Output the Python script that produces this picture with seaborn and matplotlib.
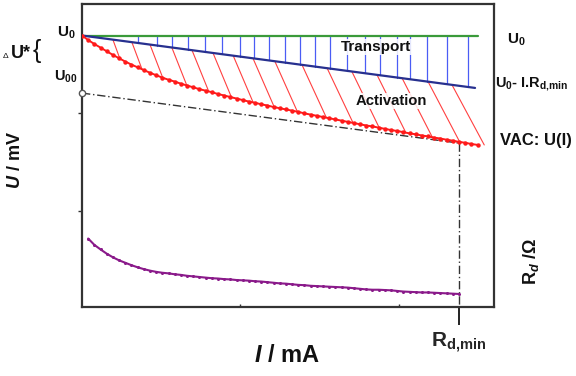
import numpy as np
import pandas as pd
import matplotlib
matplotlib.use("Agg")
import matplotlib.pyplot as plt
import seaborn as sns

# ---------------- data (schematic units: I 0..100, U 0..100) ----------------
U0 = 89.6
I_green = [0.0, 96.1]
U_green = [U0, U0]

I_blue = [0.0, 95.4]                    # U0 - I*Rd,min
U_blue = [U0, 72.3]

I_vac = [0.0, 1.5, 3.0, 4.5, 6.0, 7.5, 9.0, 10.5, 12.0, 13.5, 15.0, 16.5, 18.0,
         19.5, 21.0, 22.5, 24.0, 25.5, 27.0, 28.5, 30.0, 31.5, 33.0, 34.5, 36.0,
         37.5, 39.0, 40.5, 42.0, 43.5, 45.0, 46.5, 48.0, 49.5, 51.0, 52.5, 54.0,
         55.5, 57.0, 58.5, 60.0, 61.5, 63.0, 64.5, 66.0, 67.5, 69.0, 70.5, 72.0,
         73.5, 75.0, 76.5, 78.0, 79.5, 81.0, 82.5, 84.0, 85.5, 87.0, 88.5, 90.0,
         91.5, 93.0, 94.5, 96.0]
U_vac = [89.6, 88.1, 86.8, 85.6, 84.4, 83.2, 82.1, 81.0, 80.0, 79.1, 78.2, 77.3,
         76.5, 75.7, 75.0, 74.4, 73.7, 73.1, 72.5, 71.9, 71.4, 70.9, 70.3, 69.8,
         69.3, 68.8, 68.3, 67.8, 67.4, 66.9, 66.5, 66.0, 65.6, 65.2, 64.8, 64.4,
         63.9, 63.5, 63.1, 62.7, 62.3, 61.9, 61.5, 61.1, 60.7, 60.3, 59.9, 59.6,
         59.2, 58.8, 58.4, 58.1, 57.7, 57.3, 57.0, 56.6, 56.3, 55.9, 55.6, 55.2,
         54.9, 54.5, 54.2, 53.8, 53.5]

I_rd = [1.5, 3.0, 4.5, 6.0, 7.5, 9.0, 10.5, 12.0, 13.5, 15.0, 16.5, 18.0, 19.5,
        21.0, 22.5, 24.0, 25.5, 27.0, 28.5, 30.0, 31.5, 33.0, 34.5, 36.0, 37.5,
        39.0, 40.5, 42.0, 43.5, 45.0, 46.5, 48.0, 49.5, 51.0, 52.5, 54.0, 55.5,
        57.0, 58.5, 60.0, 61.5, 63.0, 64.5, 66.0, 67.5, 69.0, 70.5, 72.0, 73.5,
        75.0, 76.5, 78.0, 79.5, 81.0, 82.5, 84.0, 85.5, 87.0, 88.5, 90.0, 91.5]
R_d = [22.6, 20.5, 19.0, 17.6, 16.4, 15.4, 14.6, 13.8, 13.1, 12.5, 12.0, 11.6,
       11.3, 11.1, 10.8, 10.6, 10.3, 10.1, 9.9, 9.7, 9.5, 9.4, 9.2, 9.1, 8.9,
       8.8, 8.7, 8.5, 8.4, 8.2, 8.0, 7.8, 7.7, 7.5, 7.3, 7.2, 7.0, 6.9, 6.8,
       6.7, 6.6, 6.5, 6.4, 6.2, 6.0, 5.8, 5.7, 5.7, 5.6, 5.5, 5.3, 5.1, 5.0,
       4.9, 4.8, 4.8, 4.7, 4.6, 4.5, 4.4, 4.3]

I_u00 = [0.0, 91.5]          # dash-dot line from U00 to the VAC point at Rd,min
U_u00 = [70.6, 54.1]
I_rdmin = 91.5

# hatch positions
blue_hatch_I = [13.6, 18.2, 21.8, 25.7, 29.9, 34.0, 38.3, 41.7, 45.4, 49.3, 52.9,
                56.6, 60.2, 64.3, 68.7, 72.3, 76.5, 79.6, 83.7, 88.6, 93.7]
red_hatch_I = [7.5, 12.1, 16.5, 21.8, 26.7, 31.8, 36.7, 41.5, 46.8, 53.4, 59.5,
               65.5, 71.6, 77.7, 84.0, 89.8]

# ---------------- figure ----------------
sns.set_theme(style="white")
plt.rcParams["font.family"] = ["Liberation Sans", "DejaVu Sans"]
plt.rcParams["mathtext.fontset"] = "custom"
plt.rcParams["mathtext.rm"] = "Liberation Sans:bold"
plt.rcParams["mathtext.bf"] = "Liberation Sans:bold"
plt.rcParams["mathtext.it"] = "Liberation Sans:italic:bold"
plt.rcParams["mathtext.sf"] = "Liberation Sans:bold"

W, H = 576, 376
fig = plt.figure(figsize=(W / 100, H / 100), dpi=100)
ax = fig.add_axes([82 / W, 1 - 307 / H, (494 - 82) / W, (307 - 4) / H])
ax.set_xlim(0, 100)
ax.set_ylim(0, 100)

# px per data unit
PX_X = (494 - 82) / 100.0
PX_Y = (307 - 4) / 100.0

green = "#3a9a3a"
navy = "#27308f"
red = "#ff1a1a"
purple = "#8a1a8a"

# blue vertical hatches (transport)
for xi in blue_hatch_I:
    yb = np.interp(xi, I_blue, U_blue)
    ax.plot([xi, xi], [U0, yb], color="#4a5cf5", lw=0.9, zorder=1)

# red slanted hatches (activation)
for xi in red_hatch_I:
    y0 = np.interp(xi, I_blue, U_blue)
    r = 0.35 + 0.2 * xi / 96.0
    t = np.linspace(0, 90, 901)
    xs = xi + r * t / PX_X
    ys = y0 - t / PX_Y
    yr = np.interp(xs, I_vac, U_vac)
    idx = np.argmax(ys <= yr)
    ax.plot([xi, xs[idx]], [y0, ys[idx]], color="#ff4040", lw=0.8, zorder=1)

df_g = pd.DataFrame({"I": I_green, "U": U_green})
df_b = pd.DataFrame({"I": I_blue, "U": U_blue})
df_v = pd.DataFrame({"I": I_vac, "U": U_vac})
df_r = pd.DataFrame({"I": I_rd, "R": R_d})
df_d = pd.DataFrame({"I": I_u00, "U": U_u00})

sns.lineplot(data=df_g, x="I", y="U", ax=ax, color=green, lw=1.6, zorder=3)
sns.lineplot(data=df_b, x="I", y="U", ax=ax, color=navy, lw=1.6, zorder=3)
sns.lineplot(data=df_d, x="I", y="U", ax=ax, color="#333333", lw=1.0,
             dashes=False, zorder=2)
ax.lines[-1].set_dashes([6, 2, 1, 2])
ax.plot([I_rdmin, I_rdmin], [U_u00[-1], 0], color="#333333", lw=1.0,
        dashes=[6, 2, 1, 2], zorder=2)
sns.lineplot(data=df_v, x="I", y="U", ax=ax, color=red, lw=1.4, marker="o",
             markersize=3.2, markeredgewidth=0, zorder=4)
sns.lineplot(data=df_r, x="I", y="R", ax=ax, color=purple, lw=1.5, marker="o",
             markersize=2.2, markeredgewidth=0, zorder=4)
ax.plot([I_u00[0]], [U_u00[0]], marker="o", markersize=4.5, mfc="white",
        mec="#555555", mew=1.0, clip_on=False, zorder=6)

ax.set_xlabel("")
ax.set_ylabel("")

# spines / ticks
for s in ax.spines.values():
    s.set_color("#333333")
    s.set_linewidth(1.6)
ax.set_xticks([I_rdmin])
ax.set_xticklabels([r"$\mathrm{R}_{\mathrm{d{,}min}}$"], fontsize=15)
ax.tick_params(axis="x", which="major", direction="out", length=13, width=1.4,
               color="#222222", pad=4, bottom=True)
ax.set_yticks([31.7, 64.0])
ax.set_yticklabels(["", ""])
ax.tick_params(axis="y", which="major", direction="out", length=3, width=1.0,
               color="#333333", left=True)
ax.set_xticks([38.3, 76.9], minor=True)
ax.tick_params(axis="x", which="minor", direction="in", length=2.5, width=1.0,
               color="#333333", bottom=True)
ax.grid(False)

# in-plot texts
def px(x, y):
    return x / W, 1 - y / H

fig.text(*px(376, 47), "Transport", fontsize=11, fontweight="bold",
         ha="center", va="center", color="#111111", zorder=10,
         bbox=dict(facecolor="white", edgecolor="none", pad=0.5, alpha=0.85))
fig.text(*px(391, 101), "Activation", fontsize=10.7, fontweight="bold",
         ha="center", va="center", color="#111111", zorder=10,
         bbox=dict(facecolor="white", edgecolor="none", pad=0.5, alpha=0.85))

# right labels
fig.text(*px(507, 40), r"$\mathrm{U}_{\mathrm{0}}$", fontsize=11,
         ha="left", va="center", color="#111111")
fig.text(*px(495, 84),
         r"$\mathrm{U}_{\mathrm{0}}$- I.$\mathrm{R}_{\mathrm{d{,}min}}$",
         fontsize=10.5, fontweight="bold", ha="left", va="center",
         color="#111111")
fig.text(*px(500, 141), "VAC: U(I)", fontsize=12, fontweight="bold",
         ha="left", va="center", color="#111111")
fig.text(*px(531, 261), r"$\mathrm{R}_{d}$ /Ω", fontsize=13, fontweight="bold",
         rotation=90, ha="center", va="center", color="#111111")

# left labels
fig.text(*px(76, 33), r"$\mathrm{U}_{\mathrm{0}}$", fontsize=11,
         ha="right", va="center", color="#111111")
fig.text(*px(78, 77), r"$\mathrm{U}_{\mathrm{00}}$", fontsize=10.5,
         ha="right", va="center", color="#111111")
fig.text(*px(3, 57), "Δ", fontsize=6, ha="left", va="center", color="#111111")
fig.text(*px(11, 53), "U*", fontsize=13, fontweight="bold",
         ha="left", va="center", color="#111111")
fig.text(*px(33, 51), "{", fontsize=18, ha="left", va="center", color="#111111")
fig.text(*px(15, 160), r"$U$ / mV", fontsize=13, fontweight="bold",
         rotation=90, ha="center", va="center", color="#111111")
fig.text(*px(287, 355), r"$I$ / mA", fontsize=17, fontweight="bold",
         ha="center", va="center", color="#111111")

fig.savefig("out.png", dpi=100, facecolor="white")
